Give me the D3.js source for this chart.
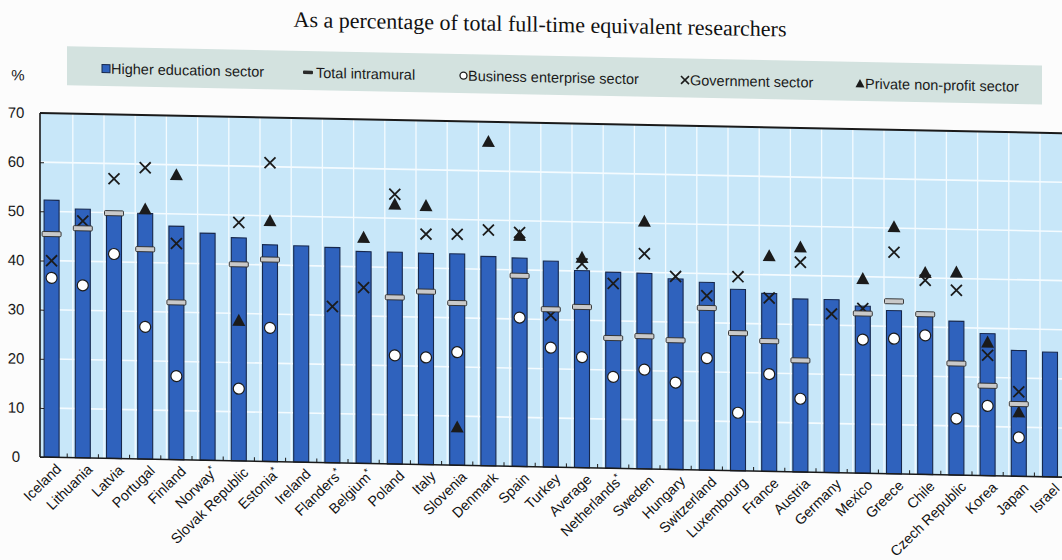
<!DOCTYPE html>
<html><head><meta charset="utf-8">
<script src="https://cdn.jsdelivr.net/npm/d3@7"></script>
<style>body{margin:0;background:#fcfcfc;} svg{display:block;}</style>
</head><body>
<script>
// ---- data ----
const countries = ["Iceland","Lithuania","Latvia","Portugal","Finland","Norway*","Slovak Republic","Estonia*","Ireland","Flanders*","Belgium*","Poland","Italy","Slovenia","Denmark","Spain","Turkey","Average","Netherlands*","Sweden","Hungary","Switzerland","Luxembourg","France","Austria","Germany","Mexico","Greece","Chile","Czech Republic","Korea","Japan","Israel"];
const higherEducation = [52.3,50.6,50.2,50.0,47.5,46.2,45.4,44.1,44.0,43.8,43.1,43.1,43.0,43.0,42.6,42.4,41.9,40.1,39.9,39.8,38.8,38.2,36.9,36.2,35.2,35.2,34.0,33.2,32.9,31.3,28.9,25.6,25.4];
const totalIntramural = [45.4,46.7,49.9,42.7,32.0,null,40.0,41.1,null,null,null,33.9,35.2,33.0,null,38.8,32.1,32.7,26.5,27.0,26.3,33.0,28.0,26.5,22.7,null,32.5,35.1,32.6,22.7,18.3,14.7,null];
const businessEnterprise = [36.5,35.1,41.6,26.9,17.0,null,14.7,27.2,null,null,null,22.1,21.8,23.0,null,30.3,24.3,22.5,18.6,20.2,17.7,22.8,11.8,19.8,14.9,null,27.2,27.5,28.3,11.5,14.2,7.9,null];
const government = [40.0,48.2,56.9,59.3,44.0,null,48.5,60.8,null,31.8,35.8,54.9,46.9,47.0,48.0,47.6,30.9,41.5,37.6,43.8,39.3,35.5,39.5,35.3,42.7,32.3,33.5,45.1,39.5,37.6,24.5,17.2,null];
const privateNonProfit = [null,null,null,50.9,58.0,null,28.6,49.0,null,null,46.0,52.9,52.7,7.8,66.0,47.0,null,42.8,null,50.4,null,null,null,43.9,45.8,null,39.6,50.3,41.1,41.3,27.2,13.1,null];
const yTicks = [0,10,20,30,40,50,60,70];
const titleText = "As a percentage of total full-time equivalent researchers";
const legendItems = ["Higher education sector","Total intramural","Business enterprise sector","Government sector","Private non-profit sector"];

// ---- drawing ----
const W = 1062, H = 560;
const svg = d3.select("body").append("svg").attr("width", W).attr("height", H);
svg.append("rect").attr("width", W).attr("height", H).attr("fill", "#fcfcfc");
const g = svg.append("g").attr("transform", "skewY(1.13)");

const plotL = 40, plotR = 1080;
const x = d3.scaleBand().domain(countries).range([36, 36 + 31.2 * countries.length]).padding(0);
const cx = c => x(c) + x.bandwidth() / 2;
const y = d3.scaleLinear().domain([0, 70]).range([456.2, 112.2]);

// plot background
g.append("rect").attr("x", plotL).attr("y", y(70)).attr("width", plotR - plotL).attr("height", y(0) - y(70)).attr("fill", "#c8e7f9");
// grid
g.selectAll(".hg").data(yTicks.filter(t => t > 0 && t < 70)).join("line")
  .attr("x1", plotL).attr("x2", plotR).attr("y1", d => y(d)).attr("y2", d => y(d))
  .attr("stroke", "#f4fbff").attr("stroke-width", 1.6);
g.selectAll(".vg").data(countries.slice(1)).join("line")
  .attr("x1", d => cx(d) - 10).attr("x2", d => cx(d) - 10).attr("y1", y(70)).attr("y2", y(0))
  .attr("stroke", "#f4fbff").attr("stroke-width", 1.3);

// bars
const bw = 15;
g.selectAll(".bar").data(countries).join("rect")
  .attr("x", d => cx(d) - bw / 2).attr("width", bw)
  .attr("y", (d, i) => y(higherEducation[i])).attr("height", (d, i) => y(0) - y(higherEducation[i]))
  .attr("fill", "#2f62bd").attr("stroke", "#17284d").attr("stroke-width", 1.1);

function pts(arr) { return countries.map((c, i) => ({c, v: arr[i]})).filter(d => d.v != null); }

// triangles
const triPath = "M0,-6.5L6.5,5.5L-6.5,5.5Z";
g.selectAll(".tri").data(pts(privateNonProfit)).join("path")
  .attr("d", triPath).attr("transform", d => `translate(${cx(d.c)},${y(d.v)})`)
  .attr("fill", "#1b1b1b");
// crosses
const crossPath = "M-5.5,-5.5L5.5,5.5M5.5,-5.5L-5.5,5.5";
g.selectAll(".cross").data(pts(government)).join("path")
  .attr("d", crossPath).attr("transform", d => `translate(${cx(d.c)},${y(d.v)})`)
  .attr("fill", "none").attr("stroke", "#1b1b1b").attr("stroke-width", 1.8);
// total intramural dashes
g.selectAll(".dash").data(pts(totalIntramural)).join("rect")
  .attr("x", d => cx(d.c) - 9.5).attr("y", d => y(d.v) - 2.5).attr("width", 19).attr("height", 5).attr("rx", 1)
  .attr("fill", "#c9c9c9").attr("stroke", "#2a2a2a").attr("stroke-width", 0.9);
// business circles
g.selectAll(".circ").data(pts(businessEnterprise)).join("circle")
  .attr("cx", d => cx(d.c)).attr("cy", d => y(d.v)).attr("r", 5.5)
  .attr("fill", "#ffffff").attr("stroke", "#1b1b1b").attr("stroke-width", 1.2);

// axes lines
g.append("line").attr("x1", plotL).attr("x2", plotR).attr("y1", y(70)).attr("y2", y(70)).attr("stroke", "#1a1a1a").attr("stroke-width", 2);
g.append("line").attr("x1", plotL).attr("x2", plotR).attr("y1", y(0)).attr("y2", y(0)).attr("stroke", "#1a1a1a").attr("stroke-width", 1.6);
g.append("line").attr("x1", plotL).attr("x2", plotL).attr("y1", y(70)).attr("y2", y(0)).attr("stroke", "#1a1a1a").attr("stroke-width", 1.6);
// x ticks at band boundaries
g.selectAll(".xt").data(countries.slice(1)).join("line")
  .attr("x1", d => x(d)).attr("x2", d => x(d)).attr("y1", y(0)).attr("y2", y(0) - 4)
  .attr("stroke", "#1a1a1a").attr("stroke-width", 1);

// y axis
const yAxis = g.append("g").attr("transform", `translate(${plotL},0)`)
  .call(d3.axisLeft(y).tickValues(yTicks).tickSize(-4).tickPadding(0));
yAxis.select(".domain").remove();
yAxis.selectAll(".tick line").attr("stroke", "#1a1a1a");
yAxis.selectAll(".tick text").attr("x", -24).attr("text-anchor", "middle")
  .attr("font-family", "Liberation Sans, Arial, sans-serif").attr("font-size", 15).attr("fill", "#1a1a1a");

// x labels
const xl = g.selectAll(".xl").data(countries).join("text")
  .attr("transform", d => `translate(${cx(d) + 7},${y(0) + 9}) rotate(-45)`)
  .attr("text-anchor", "end").attr("dy", "0.35em")
  .attr("font-family", "Liberation Sans, Arial, sans-serif").attr("font-size", 14.3).attr("fill", "#111");
xl.each(function(d) {
  const t = d3.select(this);
  const star = d.endsWith("*");
  t.append("tspan").text(star ? d.slice(0, -1) : d);
  if (star) t.append("tspan").attr("font-size", 10).attr("dy", "-0.5em").text("*");
});

// "%" label
g.append("text").attr("x", 18).attr("y", 80).attr("text-anchor", "middle")
  .attr("font-family", "Liberation Sans, Arial, sans-serif").attr("font-size", 15).attr("fill", "#1a1a1a").text("%");

// title
g.append("text").attr("x", 540).attr("y", 21).attr("text-anchor", "middle")
  .attr("font-family", "Liberation Serif, Times New Roman, serif").attr("font-size", 22).attr("fill", "#111").text(titleText);

// legend
g.append("rect").attr("x", 67).attr("y", 45).attr("width", 975).attr("height", 39).attr("fill", "#d3e2df");
const legX = [103, 304, 460, 681, 856];
const legY = 66.5;
const lg = g.selectAll(".leg").data(legendItems).join("g").attr("transform", (d, i) => `translate(${legX[i]},${legY})`);
lg.each(function(d, i) {
  const s = d3.select(this);
  if (i === 0) s.append("rect").attr("x", -1).attr("y", -4).attr("width", 8).attr("height", 8).attr("fill", "#2f62bd").attr("stroke", "#17284d").attr("stroke-width", 1);
  if (i === 1) s.append("rect").attr("x", -1).attr("y", -2).attr("width", 10).attr("height", 3.5).attr("rx", 1).attr("fill", "#2a2a2a");
  if (i === 2) s.append("circle").attr("cx", 3.5).attr("cy", 0).attr("r", 3.5).attr("fill", "#fff").attr("stroke", "#1b1b1b").attr("stroke-width", 1.3);
  if (i === 3) s.append("path").attr("d", "M0,-4L8,4M8,-4L0,4").attr("stroke", "#1b1b1b").attr("stroke-width", 1.6);
  if (i === 4) s.append("path").attr("d", "M4,-4.5L8.5,4L-0.5,4Z").attr("fill", "#1b1b1b");
  s.append("text").attr("x", [8, 12, 8, 9, 9][i]).attr("dy", "0.35em")
    .attr("font-family", "Liberation Sans, Arial, sans-serif").attr("font-size", 14.5).attr("fill", "#1a1a1a").text(d);
});
</script>
</body></html>
